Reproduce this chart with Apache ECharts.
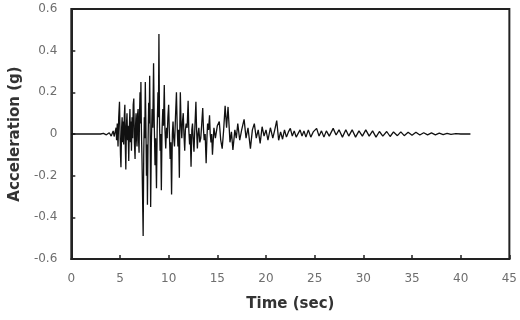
<!DOCTYPE html>
<html><head><meta charset="utf-8">
<script src="https://cdn.jsdelivr.net/npm/echarts@6/dist/echarts.min.js"></script>
<style>html,body{margin:0;padding:0;background:#fff}#c{width:520px;height:320px}</style>
</head><body><div id="c"></div>
<script>
// [time (sec), acceleration (g)]
const preEvent = [[0,0],[3.0,0],[3.3,0.003],[3.6,-0.004],[3.9,0.006],[4.1,-0.01],[4.3,0.015],[4.4,-0.012],[4.5,-0.02]];
const strongMotion = [[4.6,0.03],[4.65,-0.03],[4.72,0.05],[4.8,-0.06],[4.87,0.08],[4.95,0.155],[5.0,0.02],[5.05,-0.10],[5.1,-0.16],[5.17,0.03],[5.22,0.08],[5.28,-0.04],[5.33,0.06],[5.38,-0.05],[5.45,0.09],[5.5,0.14],[5.55,-0.06],[5.6,-0.17],[5.66,0.04],[5.72,0.10],[5.78,-0.03],[5.83,0.04],[5.9,-0.13],[5.96,0.02],[6.02,0.12],[6.08,-0.04],[6.13,0.06],[6.18,-0.08],[6.24,0.08],[6.3,-0.02],[6.36,0.14],[6.42,0.17],[6.48,-0.04],[6.55,-0.12],[6.6,0.04],[6.65,0.10],[6.7,-0.02],[6.75,-0.06],[6.8,0.09],[6.86,0.12],[6.91,-0.03],[6.96,-0.09],[7.01,0.10],[7.06,0.20],[7.1,0.05],[7.15,0.25],[7.2,0.02],[7.26,-0.12],[7.32,-0.30],[7.38,-0.49],[7.44,-0.10],[7.5,0.08],[7.55,-0.02],[7.6,0.25],[7.66,0.05],[7.72,-0.20],[7.77,-0.05],[7.82,-0.34],[7.88,-0.05],[7.95,0.15],[8.0,0.05],[8.05,0.28],[8.1,0.02],[8.15,-0.35],[8.22,-0.05],[8.3,0.12],[8.37,0.03],[8.45,0.34],[8.52,0.05],[8.6,-0.15],[8.66,-0.02],[8.75,-0.26],[8.82,0.02],[8.9,0.20],[8.95,0.08],[9.0,0.48],[9.06,0.05],[9.12,-0.08],[9.18,0.0],[9.25,-0.27],[9.32,0.02],[9.4,0.12],[9.47,0.04],[9.55,0.235],[9.62,0.02],[9.7,-0.07],[9.78,0.03],[9.85,-0.02],[9.92,0.08],[10.0,0.14],[10.07,0.01],[10.15,-0.12],[10.22,-0.04],[10.3,-0.29],[10.38,0.0],[10.45,0.06],[10.52,-0.02],[10.6,-0.06],[10.7,0.08],[10.8,0.20],[10.88,0.03],[10.95,-0.06],[11.02,0.02],[11.1,-0.21],[11.15,0.05],[11.2,0.20],[11.28,0.04],[11.35,-0.02],[11.42,0.06],[11.5,0.10],[11.57,0.0],[11.65,-0.08],[11.72,0.02],[11.8,0.05],[11.9,0.03],[12.0,0.16],[12.07,0.02],[12.15,-0.05],[12.22,0.0],[12.3,-0.157],[12.38,0.02],[12.45,0.05],[12.52,-0.02],[12.6,-0.085],[12.7,0.04],[12.8,0.155],[12.87,0.02],[12.95,-0.07],[13.02,0.0],[13.1,0.03],[13.2,-0.04],[13.3,-0.02],[13.4,0.05],[13.5,0.125],[13.58,0.02],[13.65,-0.03],[13.75,0.0],[13.85,-0.14],[13.93,-0.02],[14.0,0.05],[14.1,0.02],[14.2,0.09],[14.27,0.0],[14.35,-0.04],[14.42,0.0],[14.5,-0.10]];
const coda = [[14.65,0.03],[14.8,-0.02],[15.0,0.04],[15.2,0.06],[15.35,-0.03],[15.5,-0.07],[15.65,0.02],[15.8,0.135],[15.95,0.03],[16.1,0.13],[16.3,-0.04],[16.45,0.01],[16.6,-0.077],[16.8,0.02],[16.95,-0.02],[17.1,0.05],[17.3,-0.03],[17.5,0.02],[17.75,0.07],[17.95,-0.02],[18.15,0.03],[18.4,-0.07],[18.6,0.02],[18.8,0.05],[19.0,-0.02],[19.2,0.02],[19.4,-0.045],[19.6,0.035],[19.8,-0.01],[20.0,0.02],[20.2,-0.03],[20.45,0.03],[20.7,-0.02],[20.9,0.02],[21.1,0.064],[21.3,-0.03],[21.5,0.01],[21.7,-0.025],[21.9,0.02],[22.1,-0.015],[22.3,0.01],[22.5,0.027],[22.7,-0.01],[22.9,0.015],[23.1,-0.015],[23.3,-0.02],[23.5,0.02],[23.7,-0.01],[23.9,0.015],[24.1,-0.015],[24.35,0.02],[24.6,-0.015],[24.85,0.01],[25.2,0.027],[25.45,-0.01],[25.7,0.015],[25.95,-0.015],[26.2,0.015],[26.5,-0.01],[26.9,0.027],[27.2,-0.005],[27.5,0.02],[27.85,-0.015],[28.2,0.02],[28.5,-0.01],[28.85,0.02],[29.2,-0.015],[29.55,0.015],[29.9,-0.01],[30.25,0.02],[30.6,-0.01],[30.95,0.015],[31.3,-0.015],[31.65,0.012],[32.0,-0.01],[32.4,0.012],[32.75,-0.012],[33.1,0.01],[33.5,-0.008],[33.85,0.01],[34.2,-0.008],[34.6,0.008],[35.0,-0.006],[35.4,0.008],[35.8,-0.005],[36.2,0.006],[36.6,-0.004],[37.0,0.005],[37.4,-0.004],[37.8,0.004],[38.2,-0.003],[38.6,0.003],[39.0,-0.002],[39.5,0.002],[40.0,0],[41.0,0]];
const xTicks = [0,5,10,15,20,25,30,35,40,45];
const yTicks = [-0.6,-0.4,-0.2,0,0.2,0.4,0.6];

const data = preEvent.concat(strongMotion, coda);
const chart = echarts.init(document.getElementById('c'), null, {renderer:'canvas'});
const font = 'DejaVu Sans, Verdana, sans-serif';
chart.setOption({
  animation:false,
  backgroundColor:'#fff',
  grid:{left:69,right:9,top:9,bottom:61,show:true,borderColor:'#222',borderWidth:2},
  xAxis:{type:'value',min:xTicks[0],max:xTicks[xTicks.length-1],interval:5,
    name:'Time (sec)',nameLocation:'middle',nameGap:38,
    nameTextStyle:{fontFamily:font,fontWeight:'bold',fontSize:15,color:'#333'},
    axisLine:{show:true,onZero:false,lineStyle:{color:'#222',width:2}},
    axisTick:{show:true,inside:true,length:4,lineStyle:{color:'#222',width:1.5}},
    axisLabel:{color:'#6e6e6e',fontFamily:font,fontSize:12,margin:14},
    splitLine:{show:false}},
  yAxis:{type:'value',min:yTicks[0],max:yTicks[yTicks.length-1],interval:0.2,
    name:'Acceleration (g)',nameLocation:'middle',nameGap:46,
    nameTextStyle:{fontFamily:font,fontWeight:'bold',fontSize:15,color:'#333'},
    axisLine:{show:true,onZero:false,lineStyle:{color:'#222',width:2}},
    axisTick:{show:true,inside:true,length:4,lineStyle:{color:'#222',width:1.5}},
    axisLabel:{color:'#6e6e6e',fontFamily:font,fontSize:12,margin:14,
      formatter:v=>{const r=Math.round(v*10)/10;return r===0?'0':r.toFixed(1);}},
    splitLine:{show:false}},
  series:[{type:'line',data:data,showSymbol:false,symbol:'none',
    lineStyle:{color:'#111',width:1.3},z:3}]
});
</script></body></html>
